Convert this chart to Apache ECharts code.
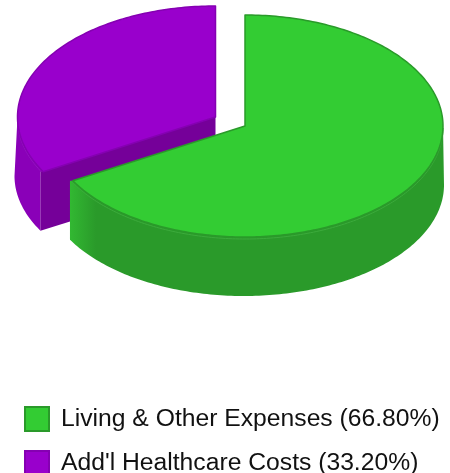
<!DOCTYPE html>
<html><head><meta charset="utf-8">
<style>html,body{margin:0;padding:0;background:#fff}#c{width:450px;height:473px}</style>
<script src="https://cdn.jsdelivr.net/npm/echarts@6/dist/echarts.min.js"></script>
</head><body><div id="c"></div>
<script>
const categories = ["Living & Other Expenses", "Add'l Healthcare Costs"];
const shares = [66.8, 33.2];
const topColors = ['#33cc33', '#9900cc'];
const rimColors = ['#2a9a2a', '#8500b2'];
const sideColors = ['#2a9a2a', '#8a00b8'];
const faceColors = ['#2a9a2a', '#750099'];
const edgeColors = ['#32b832', '#9000c0'];
const glintColors = ['#3cab3c', '#9415c2'];
const explodeX = [0, -29.5];
const explodeY = [0, -9];

const CX = 245, CY = 126, RX = 198, WALL_RX = 200, WALL_DX = -1, TUCK = 3, RY = 111, DEPTH = 59;
const total = shares.reduce((a, b) => a + b, 0);
const labels = categories.map((c, i) => c + ' (' + (shares[i] / total * 100).toFixed(2) + '%)');

function renderSlice(idx) {
  return function (params, api) {
    const value = api.value(0);
    let before = 0;
    for (let i = 0; i < idx; i++) before += shares[i];
    const a0 = before / total * 360, a1 = (before + value) / total * 360;
    const cx = CX + explodeX[idx], cy = CY + explodeY[idx];
    // ring: 'wall' = outer wall ellipse, 'tuck' = hidden under the top face, otherwise the top ellipse
    const pt = (deg, dy, ring) => {
      const r = deg * Math.PI / 180;
      const x0 = ring === 'wall' ? cx + WALL_DX : cx;
      const rx = ring === 'wall' ? WALL_RX : ring === 'tuck' ? RX - TUCK : RX;
      return [x0 + rx * Math.sin(r), cy - RY * Math.cos(r) + (dy || 0)];
    };
    const arc = (from, to, dy, ring) => {
      const out = [], n = Math.max(2, Math.ceil(Math.abs(to - from)));
      for (let k = 0; k <= n; k++) out.push(pt(from + (to - from) * k / n, dy, ring));
      return out;
    };
    const children = [];
    const from = Math.max(a0, 90), to = Math.min(a1, 270);
    if (to > from) {
      const minX = Math.min(pt(from, 0, 'wall')[0], pt(to, 0, 'wall')[0]);
      const maxX = Math.max(pt(from, 0, 'wall')[0], pt(to, 0, 'wall')[0]);
      const fadeW = 26 / (maxX - minX);
      const fill = {
        type: 'linear', x: 0, y: 0, x2: 1, y2: 0,
        colorStops: [
          { offset: 0, color: edgeColors[idx] },
          { offset: Math.min(1, fadeW), color: sideColors[idx] },
          { offset: 1, color: sideColors[idx] }
        ]
      };
      const cap = d => (d === 90 || d === 270) ? pt(d, 0) : pt(d, 0, 'wall');
      const upper = [cap(from)].concat(arc(from, to, 0, 'tuck'), [cap(to)]);
      children.push({
        type: 'polygon',
        shape: { points: upper.concat(arc(to, from, DEPTH, 'wall')) },
        style: { fill: idx === 0 ? fill : sideColors[idx] }
      });
      children.push({
        type: 'polyline',
        shape: { points: arc(from, to, 2) },
        style: { fill: 'none', stroke: glintColors[idx], lineWidth: 1 }
      });
    }
    [[a0, Math.sin(a0 * Math.PI / 180) < -1e-6], [a1, Math.sin(a1 * Math.PI / 180) > 1e-6]].forEach(f => {
      if (!f[1]) return;
      const rim = pt(f[0], 0, 'wall');
      children.push({
        type: 'polygon',
        shape: { points: [[cx, cy], rim, [rim[0], rim[1] + DEPTH], [cx, cy + DEPTH]] },
        style: { fill: faceColors[idx] }
      });
    });
    children.push({
      type: 'polygon',
      shape: { points: [[cx, cy]].concat(arc(a0, a1, 0)) },
      style: { fill: topColors[idx], stroke: rimColors[idx], lineWidth: 1.5, lineJoin: 'round' }
    });
    return { type: 'group', children: children };
  };
}

const chart = echarts.init(document.getElementById('c'), null, { renderer: 'canvas' });
chart.setOption({
  animation: false,
  backgroundColor: '#fff',
  legend: {
    orient: 'vertical', left: 24, top: 406, padding: 0, height: 120,
    itemWidth: 24, itemHeight: 24, itemGap: 18,
    selectedMode: false,
    textStyle: { fontFamily: '"Liberation Sans", Arial, sans-serif', fontSize: 24.7, lineHeight: 24, color: '#111', padding: [0, 0, 0, 7] },
    data: categories.map((c, i) => ({
      name: labels[i], icon: 'rect',
      itemStyle: { color: topColors[i], borderColor: rimColors[i], borderWidth: 2 }
    }))
  },
  series: [1, 0].map(i => ({
    type: 'custom',
    name: labels[i],
    coordinateSystem: 'none',
    renderItem: renderSlice(i),
    itemStyle: { color: topColors[i] },
    silent: true,
    z: 2 - i,
    data: [[shares[i]]]
  }))
});
</script></body></html>
